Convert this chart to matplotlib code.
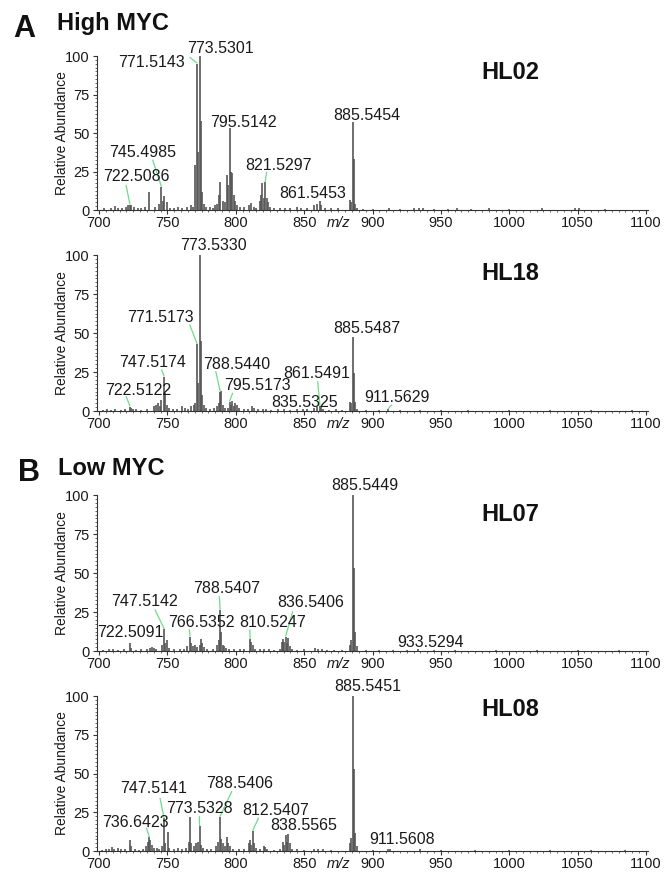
import matplotlib
matplotlib.use("Agg")
import matplotlib.pyplot as plt
from matplotlib.ticker import MultipleLocator

plt.rcParams["font.family"] = ["Liberation Sans", "DejaVu Sans"]

# ---- HL02 (High MYC) ----
hl02_mz = [703.5, 708.5, 711.5, 714, 716.5, 719.5, 721.5, 722.5, 723.5, 725.5,
           728.5, 731, 733.5, 736.6, 741, 743.5, 745.5, 746.5, 747.5, 749.5,
           752, 755, 758, 761, 764, 767.5, 768.5, 770.5, 771.51, 772.5,
           773.53, 774.5, 775.5, 776.5, 778, 781, 783, 785, 786, 787.5,
           788.5, 790.5, 792, 793.5, 794.5, 795.51, 796.5, 797.5, 798.5, 799.5,
           801, 803, 806, 809.5, 811.5, 813, 815, 817.5, 818.5, 819.5,
           820.5, 821.53, 822.5, 823.5, 825, 828, 832, 836, 840, 845,
           848, 852, 857.5, 859.5, 861.55, 862.5, 865, 870, 875, 883.5,
           884.5, 885.55, 886.5, 887.5, 889, 893, 900, 912, 920, 930,
           934, 937, 945, 955, 962, 972, 985, 1000, 1024, 1048,
           1051, 1070]
hl02_int = [1.0, 1.5, 2.5, 1.0, 1.5, 2.0, 3.0, 3.5, 3.0, 2.0,
            1.0, 1.5, 2.0, 12, 2.0, 4.0, 15, 6.0, 9.0, 5.0,
            1.5, 1.0, 2.0, 1.5, 2.0, 3.0, 2.0, 29, 95, 38,
            100, 58, 12, 4.0, 2.0, 2.0, 1.5, 3.0, 4.0, 10,
            18, 6.0, 5.0, 23, 16, 53, 25, 24, 10, 6.0,
            3.0, 2.0, 2.0, 3.0, 4.5, 2.0, 1.5, 6.0, 10, 17.5,
            8.0, 18, 8.0, 5.0, 2.0, 1.0, 1.5, 1.0, 1.5, 2.0,
            1.0, 1.5, 3.0, 4.0, 6.0, 3.0, 1.5, 1.0, 1.0, 6.5,
            5.0, 57, 33, 4.0, 1.5, 0.8, 0.8, 1.0, 0.7, 1.2,
            1.5, 1.0, 0.8, 0.8, 1.0, 0.6, 1.0, 0.6, 1.2, 1.5,
            1.0, 0.6]
hl02_labels = ["771.5143", "773.5301", "745.4985", "722.5086", "795.5142",
               "821.5297", "861.5453", "885.5454"]

# ---- HL18 (High MYC) ----
hl18_mz = [703, 706, 709, 712, 716, 719, 722.51, 723.5, 725, 727,
           731, 735, 740.5, 741.5, 743, 744.5, 745.5, 747.52, 748.5, 749.5,
           751, 754, 757, 760.5, 763, 765, 767.5, 769.5, 770.5, 771.52,
           772.5, 773.53, 774.5, 775.5, 776.5, 778, 781, 784, 786, 787.5,
           788.54, 789.5, 790.5, 792, 794, 795.52, 796.5, 797.5, 798.5, 799.5,
           801, 802.5, 806, 809, 812, 813, 816, 820, 822, 826,
           831, 835.53, 840, 845, 849, 852, 857.5, 859.5, 861.55, 862.5,
           864, 868, 873, 878, 883.5, 884.5, 885.55, 886.5, 887.5, 889,
           895, 905, 911.56, 920, 935, 950, 970, 1000, 1030, 1060,
           1090]
hl18_int = [0.8, 1.0, 0.8, 1.0, 0.8, 1.2, 2.8, 2.0, 1.5, 1.0,
            0.8, 1.0, 3.0, 4.0, 5.0, 3.0, 7.0, 22, 11.5, 4.0,
            2.0, 1.0, 1.5, 3.0, 2.0, 1.5, 3.0, 4.0, 5.0, 43,
            18, 100, 45, 10, 4.0, 2.0, 1.5, 2.0, 3.0, 5.0,
            12.4, 13, 4.0, 2.0, 2.0, 6.0, 4.0, 6.5, 3.0, 5.0,
            4.0, 2.0, 1.5, 1.0, 3.0, 2.0, 1.0, 1.5, 1.0, 0.8,
            1.0, 1.2, 0.8, 1.0, 1.2, 1.0, 2.0, 2.5, 3.2, 2.5,
            1.5, 0.8, 1.0, 0.8, 6.0, 5.0, 47.6, 24.6, 6.0, 1.5,
            0.6, 0.6, 1.0, 0.5, 0.6, 0.5, 0.5, 0.5, 0.5, 0.5,
            0.5]
hl18_labels = ["773.5330", "771.5173", "747.5174", "722.5122", "788.5440",
               "795.5173", "835.5325", "861.5491", "885.5487", "911.5629"]

# ---- HL07 (Low MYC) ----
hl07_mz = [703, 707, 710, 714, 718, 722.51, 723.5, 727, 731, 735,
           737, 739, 740.5, 742, 746, 747.51, 748.5, 749.5, 751, 755,
           759, 762, 764.5, 766.54, 767.5, 768.5, 770, 771.5, 773.5, 774.5,
           775.5, 777, 779, 783, 786, 787.5, 788.54, 789.5, 790.5, 791.5,
           793, 795, 799, 803, 806, 810.52, 811.5, 812.5, 814, 818,
           821, 824, 828, 832, 833.5, 834.5, 835.5, 836.54, 837.5, 838.5,
           839.5, 841, 845, 850, 858, 860, 863, 867, 872, 878,
           883.5, 884.5, 885.54, 886.5, 887.5, 888.5, 895, 905, 915, 925,
           933.53, 945, 960, 990, 1020, 1050, 1080]
hl07_int = [0.8, 1.0, 1.2, 0.8, 1.0, 5.3, 2.0, 0.8, 1.0, 1.5,
            2.0, 2.6, 2.0, 1.5, 4.0, 14, 5.0, 7.0, 2.0, 1.0,
            1.5, 1.5, 3.0, 9.2, 5.0, 3.0, 4.0, 2.5, 4.0, 8.0,
            5.0, 2.5, 1.5, 1.0, 4.0, 7.0, 26.3, 12.4, 4.0, 3.0,
            2.0, 1.5, 1.0, 1.0, 1.0, 7.5, 5.5, 4.0, 1.5, 1.0,
            1.5, 1.0, 0.8, 1.5, 6.0, 7.5, 6.0, 9.2, 5.0, 8.5,
            3.0, 1.5, 0.8, 1.0, 2.0, 1.5, 1.2, 0.8, 0.6, 0.6,
            4.0, 7.0, 100, 53, 12.4, 3.0, 0.6, 0.5, 0.6, 0.5,
            1.0, 0.5, 0.5, 0.5, 0.5, 0.5, 0.5]
hl07_labels = ["885.5449", "747.5142", "722.5091", "766.5352", "788.5407",
               "810.5247", "836.5406", "933.5294"]

# ---- HL08 (Low MYC) ----
hl08_mz = [702, 705, 707, 709.5, 711, 713.5, 716, 719, 722.5, 723.5,
           726, 729, 732, 734.5, 735.5, 736.64, 737.5, 738.5, 740, 742.5,
           744, 746, 747.51, 748.5, 750.5, 751.5, 755, 758, 761, 763.5,
           765.5, 766.5, 767.5, 769.5, 771, 772.5, 773.53, 774.5, 776, 779,
           782, 785.5, 787, 788.54, 789.5, 790.5, 792, 793.5, 794.5, 796,
           798, 802, 806, 809.5, 810.5, 811.5, 812.54, 813.5, 815, 818,
           820.5, 821.5, 823, 828, 832, 834.5, 835.5, 836.5, 837.5, 838.56,
           839.5, 841, 845, 850, 857, 860, 864, 870, 883.5, 884.5,
           885.55, 886.5, 887.5, 888.5, 900, 911.56, 913, 935, 950, 975,
           1000, 1030, 1060, 1085]
hl08_int = [0.8, 1.5, 1.0, 2.5, 1.5, 2.0, 1.0, 1.0, 7.0, 3.0,
            1.0, 0.8, 1.5, 3.0, 6.0, 8.8, 7.0, 4.0, 2.0, 2.0,
            1.5, 3.0, 21, 5.0, 12, 2.0, 1.0, 2.0, 1.5, 2.0,
            6.0, 22, 5.0, 3.0, 5.0, 6.0, 16, 4.0, 2.0, 1.0,
            1.0, 3.0, 6.0, 22, 8.0, 5.0, 3.0, 8.8, 5.0, 3.0,
            1.5, 1.0, 1.0, 5.0, 7.0, 4.0, 13, 5.0, 2.0, 1.5,
            3.0, 2.5, 1.5, 0.8, 1.0, 6.0, 4.0, 10.5, 6.0, 11,
            5.0, 1.5, 1.0, 0.8, 1.5, 1.5, 1.0, 0.6, 5.0, 8.4,
            100, 53, 11.4, 3.0, 0.5, 1.3, 1.0, 1.0, 0.5, 0.5,
            0.5, 0.5, 0.5, 0.5]
hl08_labels = ["885.5451", "747.5141", "736.6423", "773.5328", "788.5406",
               "812.5407", "838.5565", "911.5608"]

# label text positions (data coords) and leader start points (None = no leader)
hl02_text_xy = [(738.4, 92.9), (788.5, 102), (731.8, 34.4), (727.4, 18.8),
                (805.8, 53.9), (831.0, 26.0), (856.1, 7.8), (895.7, 58.4)]
hl02_leader = [(766.6, 99.0), None, (739.3, 32.3), (719.8, 16.0),
               None, (822.6, 24.5), None, None]
hl18_text_xy = [(783.9, 103.2), (744.6, 57.2), (739.1, 28.4), (728.8, 10.3),
                (800.9, 26.7), (815.5, 13.5), (850.6, 2.8), (859.5, 21.0),
                (895.7, 49.8), (918.2, 6.0)]
hl18_leader = [None, (766.4, 55.1), (745.8, 26.3), (719.9, 9.2),
               (785.4, 25.2), (797.6, 11.3), None, (859.9, 18.8),
               None, (913.9, 3.8)]
hl07_text_xy = [(894.5, 103.2), (733.3, 28.8), (723.1, 9.2), (775.0, 15.6),
                (793.3, 37.0), (827.1, 15.6), (854.6, 28.4), (942.6, 2.8)]
hl07_leader = [None, (741.0, 26.3), None, (766.0, 13.5),
               (788.0, 34.8), (810.3, 13.5), (841.6, 25.2), None]
hl08_text_xy = [(896.5, 103.4), (739.6, 37.2), (726.9, 15.7), (773.3, 24.3),
                (802.9, 40.5), (829.0, 23.2), (849.7, 13.5), (921.6, 4.5)]
hl08_leader = [None, (744.6, 34.0), (734.7, 14.6), (773.3, 22.1),
               (797.0, 38.3), (816.5, 21.1), None, None]

panels = [
    ("HL02", hl02_mz, hl02_int, hl02_labels, hl02_text_xy, hl02_leader, 89.6,
     [97 / 666, 0.7597, 551 / 666, 0.1762]),
    ("HL18", hl18_mz, hl18_int, hl18_labels, hl18_text_xy, hl18_leader, 88.3,
     [97 / 666, 0.5297, 551 / 666, 0.1785]),
    ("HL07", hl07_mz, hl07_int, hl07_labels, hl07_text_xy, hl07_leader, 87.8,
     [97 / 666, 0.2551, 551 / 666, 0.1785]),
    ("HL08", hl08_mz, hl08_int, hl08_labels, hl08_text_xy, hl08_leader, 91.6,
     [97 / 666, 0.0263, 551 / 666, 0.1773]),
]

peak_color = "#555555"
leader_color = "#6fdc8c"
text_color = "#1a1a1a"

fig = plt.figure(figsize=(6.66, 8.74), dpi=100)

for name, mz, inten, labels, text_xy, leader, name_y, rect in panels:
    ax = fig.add_axes(rect)
    ax.vlines(mz, 0, inten, color=peak_color, linewidth=1.2)
    ax.set_xlim(698.5, 1101.5)
    ax.set_ylim(0, 100)

    for side in ["top", "right"]:
        ax.spines[side].set_visible(False)
    for side in ["left", "bottom"]:
        ax.spines[side].set_color("#333333")
        ax.spines[side].set_linewidth(0.8)

    ax.xaxis.set_major_locator(MultipleLocator(50))
    ax.xaxis.set_minor_locator(MultipleLocator(5))
    ax.yaxis.set_major_locator(MultipleLocator(25))
    ax.yaxis.set_minor_locator(MultipleLocator(2.5))
    ax.tick_params(axis="x", which="major", length=3, width=0.8, pad=1.5,
                   labelsize=10.5, colors="#333333", labelcolor=text_color)
    ax.tick_params(axis="x", which="minor", length=1.6, width=0.6, colors="#555555")
    ax.tick_params(axis="y", which="major", length=3, width=0.8, pad=2.5,
                   labelsize=10.5, colors="#333333", labelcolor=text_color)
    ax.tick_params(axis="y", which="minor", length=1.8, width=0.6, colors="#555555")

    ax.text(-0.063, 0.5, "Relative Abundance", transform=ax.transAxes,
            rotation=90, ha="center", va="center", fontsize=10, color=text_color)
    ax.annotate("m/z", xy=(875, 0), xycoords=("data", "axes fraction"),
                xytext=(0, -4.6), textcoords="offset points", ha="center",
                va="top", fontsize=10.5, style="italic", color=text_color)

    ax.text(1000.5, name_y, name, ha="center", va="center", fontsize=17,
            fontweight="bold", color="#111111")

    for lab, (tx, ty), lead in zip(labels, text_xy, leader):
        ax.text(tx, ty, lab, ha="center", va="baseline", fontsize=11.5,
                color=text_color, clip_on=False)
        if lead is not None:
            pk = float(lab)
            idx = min(range(len(mz)), key=lambda i: abs(mz[i] - pk))
            ax.plot([lead[0], pk], [lead[1], inten[idx] + 0.5],
                    color=leader_color, linewidth=0.9, clip_on=False)

fig.text(0.036, 0.9577, "A", ha="center", va="baseline", fontsize=22,
         fontweight="bold", color="#111111")
fig.text(0.0856, 0.9657, "High MYC", ha="left", va="baseline", fontsize=17,
         fontweight="bold", color="#111111")
fig.text(0.0435, 0.4497, "B", ha="center", va="baseline", fontsize=22,
         fontweight="bold", color="#111111")
fig.text(0.087, 0.4565, "Low MYC", ha="left", va="baseline", fontsize=17,
         fontweight="bold", color="#111111")

fig.savefig("out.png", dpi=100)
